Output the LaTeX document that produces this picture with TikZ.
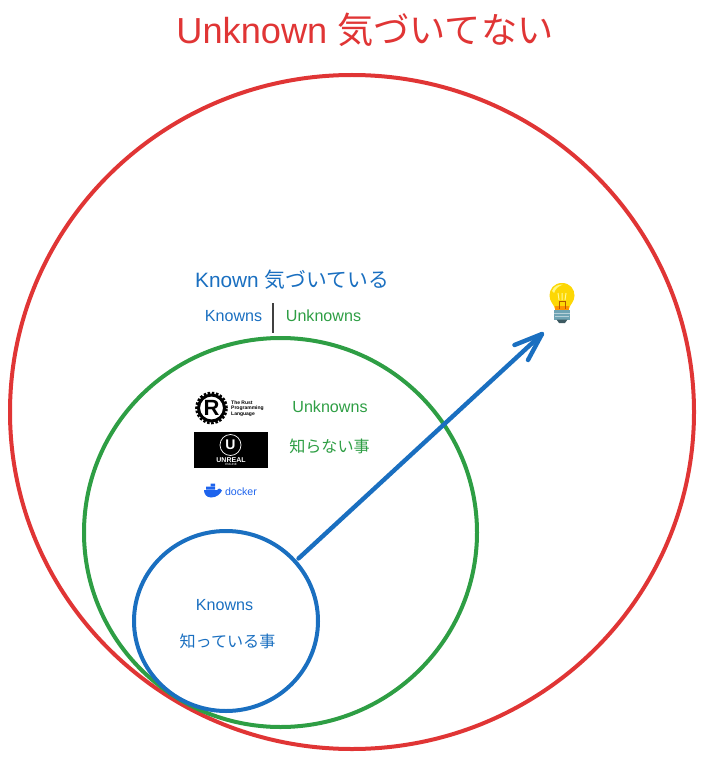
\documentclass[tikz,border=0pt]{standalone}
\usepackage{fontspec}
\setmainfont{Liberation Sans}
\newfontfamily\cjk{Noto Sans CJK JP}
\usetikzlibrary{shapes.geometric,arrows.meta}
\definecolor{cred}{HTML}{E03535}
\definecolor{cgreen}{HTML}{2E9E44}
\definecolor{cblue}{HTML}{1A6FC0}
\definecolor{cdock}{HTML}{1D63ED}
\definecolor{bulbbase}{HTML}{6FA3B3}
\tikzset{
  ring/.style={draw=#1,line width=4pt,shape=ellipse,inner sep=0pt,outer sep=0pt},
  lbl/.style={inner sep=0pt,font=\fontsize{#1}{#1}\selectfont},
  lbl/.default=16,
  jump/.style={draw=cblue,line width=4.4pt,line cap=round,line join=round},
  rusttxt/.style={inner sep=0pt,anchor=west,font=\bfseries\fontsize{5}{5}\selectfont}
}
\begin{document}
\begin{tikzpicture}[x=1pt,y=-1pt]
\useasboundingbox (0,0) rectangle (704,759);
\node[ring=cred,minimum width=684pt,minimum height=674pt] (outer) at (352,412) {};
\node[ring=cgreen,minimum width=393pt,minimum height=389pt] (middle) at (280.5,532.5) {};
\node[ring=cblue,minimum width=184pt,minimum height=180pt] (inner) at (226,621) {};
\node[lbl=36.2,text=cred] (title) at (365,30) {Unknown {\cjk 気づいてない}};
\node[lbl=20.8,text=cblue] (known) at (292,279.5) {Known {\cjk 気づいている}};
\node[lbl=16.1,text=cblue] (k1) at (233.5,316) {Knowns};
\node[lbl=16.1,text=cgreen] (u1) at (323.5,316) {Unknowns};
\coordinate (sepa) at (273,303);
\coordinate (sepb) at (273,333);
\draw[line width=1.6pt,draw=black!75] (sepa) -- (sepb);
\node[lbl=16.1,text=cgreen] (u2) at (330,407) {Unknowns};
\node[lbl=16.1,text=cgreen] (u3) at (329.5,446) {\cjk 知らない事};
\node[lbl=16.1,text=cblue] (k2) at (224.5,605) {Knowns};
\node[lbl=16.1,text=cblue] (k3) at (227.5,641) {\cjk 知っている事};
% Rust logo
\node[draw=black,line width=3.6pt,dash pattern=on 2.4pt off 1.6pt,circle,minimum size=29pt,inner sep=0pt] (rustg) at (211.5,408) {};
\node[draw=black,line width=3pt,circle,minimum size=26pt,inner sep=0pt] (rust) at (211.5,408) {};
\node[inner sep=0pt,font=\bfseries\fontsize{22}{22}\selectfont] (rustr) at (211.5,408) {R};
\node[rusttxt] (rustt1) at (231,402.5) {The Rust};
\node[rusttxt] (rustt2) at (231,408.3) {Programming};
\node[rusttxt] (rustt3) at (231,414) {Language};
% Unreal logo
\node[fill=black,minimum width=74pt,minimum height=36.5pt,inner sep=0pt] (ue) at (231,450) {};
\node[draw=white,line width=.7pt,circle,minimum size=21pt,inner sep=0pt,text=white,font=\bfseries\fontsize{14}{14}\selectfont] (uec) at (230.5,445) {U};
\node[inner sep=0pt,text=white,font=\bfseries\fontsize{7}{7}\selectfont] (uet) at (231,460) {UNREAL};
\node[inner sep=0pt,text=white,font=\fontsize{3}{3}\selectfont] (ues) at (231,464.5) {ENGINE};
% Docker logo
\fill[cdock] (204,490) -- (217,490) .. controls (218,488) and (220,488) .. (222,490.5) .. controls (220,494) and (217,497.5) .. (211,497.5) .. controls (206.5,497.5) and (204,494) .. (204,490) -- cycle;
\fill[cdock] (206,486.5) rectangle (215,489.5) (210.5,483.5) rectangle (215,486);
\node[inner sep=0pt,text=cdock,font=\fontsize{10.6}{10.6}\selectfont] (dock) at (241,491.5) {docker};
% Bulb
\coordinate (bulb) at (562,303);
\fill[yellow!75!orange] (562,283) .. controls (570,283) and (574.5,289) .. (574.5,295.5) .. controls (574.5,302) and (570,304) .. (569,309) -- (555,309) .. controls (554,304) and (549.5,302) .. (549.5,295.5) .. controls (549.5,289) and (554,283) .. (562,283) -- cycle;
\fill[orange!85!yellow] (555,305.5) -- (569,305.5) -- (569,310) -- (555,310) -- cycle;
\fill[white!50!yellow] (552,291) .. controls (554,286) and (558,284.5) .. (563,284.5) .. controls (558,286.5) and (556,288) .. (554,293) -- cycle;
\draw[orange!70!black,line width=.7pt] (559,301) -- (559,309) (565,301) -- (565,309) (559,301) -- (565,301);
\draw[white!60!yellow,line width=1pt] (558,293) -- (559,300) (562,293) -- (562,300) (566,293) -- (565,300);
\fill[bulbbase] (554,309.5) rectangle (570,319.5);
\fill[black!45!bulbbase] (556.5,319.5) -- (567.5,319.5) -- (565,323) -- (559,323) -- cycle;
\draw[white!50!bulbbase,line width=.8pt] (554,313) -- (570,313) (555,316.5) -- (569,316.5);
% Arrow
\coordinate (tail) at (298.5,558.5);
\coordinate (head) at (542,334);
\coordinate (barba) at (514.5,345);
\coordinate (barbb) at (528,360);
\draw[jump] (tail) -- (head);
\draw[jump] (barba) -- (head) -- (barbb);
\end{tikzpicture}
\end{document}
